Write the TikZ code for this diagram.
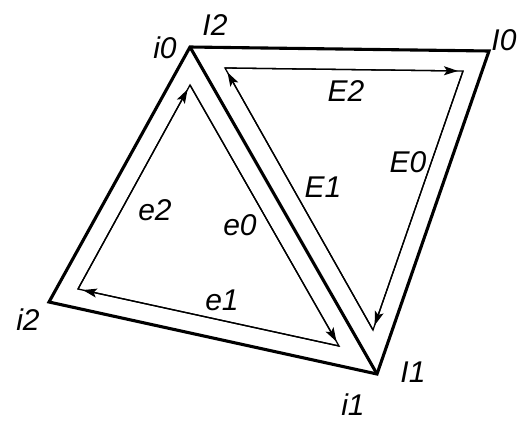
\documentclass[tikz,border=0pt]{standalone}
\usepackage{fontspec}
\setmainfont{Liberation Sans}
\usetikzlibrary{arrows.meta}

\begin{document}
\begin{tikzpicture}[
  x=1pt,y=-1pt,
  rim/.style={line width=3.1pt,line join=miter},
  ring/.style={line width=1.3pt,line join=miter},
  flow/.style={line width=1.3pt,-{Stealth[length=14pt,width=9pt,inset=3pt]},shorten >=5pt},
  lab/.style={font=\fontsize{30}{32}\selectfont\itshape,inner sep=0pt}
]
\useasboundingbox (0,0) rectangle (522,424);

% ---------------- outer quad ----------------
\coordinate (a) at (190,47);
\coordinate (b) at (489,51);
\coordinate (c) at (377,374);
\coordinate (d) at (49,302);

\draw[rim] (a) -- (b) -- (c) -- (d) -- cycle;
\draw[rim] (a) -- (c);

% ---------------- left triangle (e) ----------------
\coordinate (lt) at (190,85);
\coordinate (ll) at (78,289);
\coordinate (lr) at (339,346);

\draw[ring] (lt) -- (lr) -- (ll) -- cycle;
\draw[flow] (ll) -- (lt);
\draw[flow] (lt) -- (lr);
\draw[flow] (lr) -- (ll);

% ---------------- right triangle (E) ----------------
\coordinate (rl) at (225,68);
\coordinate (rr) at (463,71);
\coordinate (rb) at (373,330);

\draw[ring] (rl) -- (rr) -- (rb) -- cycle;
\draw[flow] (rl) -- (rr);
\draw[flow] (rr) -- (rb);
\draw[flow] (rb) -- (rl);

% labels
\node[lab] (i0) at (165,48) {i0};
\node[lab] (I2) at (215,25) {I2};
\node[lab] (I0) at (504,40) {I0};
\node[lab] (i2) at (28,320) {i2};
\node[lab] (i1) at (353,405) {i1};
\node[lab] (I1) at (413,372) {I1};

\node[lab] (E2) at (346,91) {E2};
\node[lab] (E0) at (408,162) {E0};
\node[lab] (E1) at (323,187) {E1};
\node[lab] (e0) at (240,225) {e0};
\node[lab] (e2) at (155,210) {e2};
\node[lab] (e1) at (222,300) {e1};

\end{tikzpicture}
\end{document}
